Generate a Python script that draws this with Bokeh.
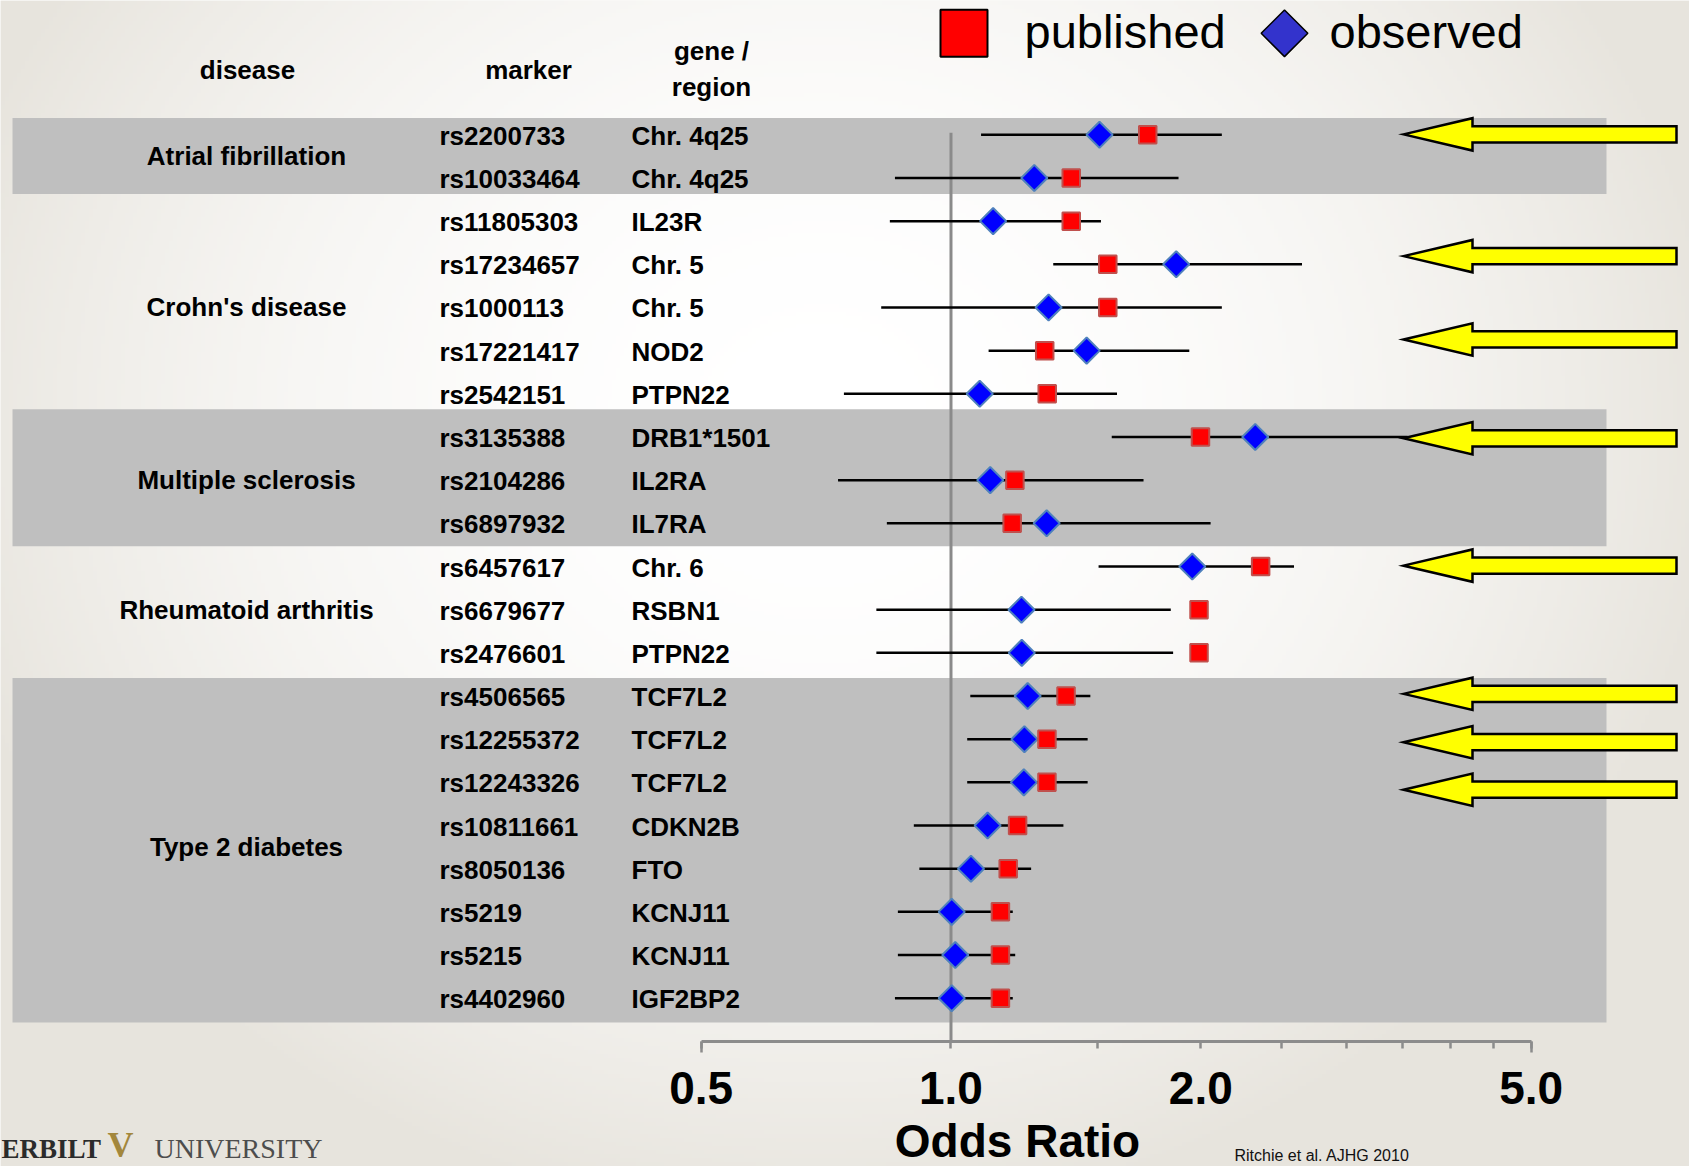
import numpy as np
from bokeh.plotting import figure
from bokeh.models import (Range1d, LinearScale, LogAxis, FixedTicker,
                          PrintfTickFormatter, CustomJSTickFormatter, ColumnDataSource)
from bokeh.core.properties import value
from bokeh.embed import file_html
from bokeh.resources import INLINE

# ---------------- data ----------------
diseases = ["Atrial fibrillation", "Crohn's disease", "Multiple sclerosis",
            "Rheumatoid arthritis", "Type 2 diabetes"]
disease_counts = [2, 5, 3, 3, 8]
markers = ["rs2200733", "rs10033464", "rs11805303", "rs17234657", "rs1000113",
           "rs17221417", "rs2542151", "rs3135388", "rs2104286", "rs6897932",
           "rs6457617", "rs6679677", "rs2476601", "rs4506565", "rs12255372",
           "rs12243326", "rs10811661", "rs8050136", "rs5219", "rs5215", "rs4402960"]
genes = ["Chr. 4q25", "Chr. 4q25", "IL23R", "Chr. 5", "Chr. 5", "NOD2", "PTPN22",
         "DRB1*1501", "IL2RA", "IL7RA", "Chr. 6", "RSBN1", "PTPN22", "TCF7L2",
         "TCF7L2", "TCF7L2", "CDKN2B", "FTO", "KCNJ11", "KCNJ11", "IGF2BP2"]
ci_low = [1.087, 0.856, 0.844, 1.328, 0.824, 1.110, 0.743, 1.562, 0.731, 0.837,
          1.506, 0.813, 0.813, 1.055, 1.046, 1.046, 0.902, 0.916, 0.863, 0.863, 0.856]
ci_high = [2.12, 1.88, 1.516, 2.648, 2.12, 1.937, 1.585, 3.55, 1.706, 2.055,
           2.59, 1.84, 1.852, 1.472, 1.461, 1.461, 1.366, 1.249, 1.187, 1.195, 1.187]
observed = [1.51, 1.26, 1.124, 1.868, 1.311, 1.457, 1.083, 2.326, 1.115, 1.304,
            1.953, 1.216, 1.217, 1.237, 1.226, 1.224, 1.107, 1.057, 1.002, 1.012, 1.002]
published = [1.726, 1.396, 1.396, 1.545, 1.545, 1.297, 1.306, 1.998, 1.194, 1.185,
             2.361, 1.99, 1.99, 1.376, 1.305, 1.305, 1.203, 1.172, 1.147, 1.147, 1.147]
arrow_markers = ["rs2200733", "rs17234657", "rs17221417", "rs3135388",
                 "rs6457617", "rs4506565", "rs12255372", "rs12243326"]
tick_values = [0.5, 1.0, 2.0, 5.0]
end_tick_values = [0.5, 5.0]
minor_tick_values = [1.5, 2.5, 3.0, 3.5, 4.0, 4.5]

FONT = value("Liberation Sans")
SERIF = value("Liberation Serif")

rows = list(range(len(markers)))
src = ColumnDataSource(dict(row=rows, marker=markers, gene=genes, lo=ci_low,
                            hi=ci_high, obs=observed, pub=published))

# ---------------- figure ----------------
W, H = 1689, 1166
p = figure(width=W, height=H, x_axis_type="log",
           x_range=Range1d(0.07158, 7.759), y_range=Range1d(23.8985, -3.111),
           x_axis_location=None, y_axis_location=None,
           toolbar_location=None, output_backend="svg", min_border=0)
p.grid.visible = False
p.outline_line_color = None
p.background_fill_color = "#f6f5f2"
p.border_fill_color = "#f6f5f2"

p.extra_x_ranges = {"px": Range1d(0, W)}
p.extra_x_scales = {"px": LinearScale()}
p.extra_y_ranges = {"px": Range1d(H, 0), "bg": Range1d(0, H)}
p.extra_y_scales = {"px": LinearScale(), "bg": LinearScale()}

# slide background (soft radial gradient)
GH, GW = 292, 423
gy = H - (np.arange(GH) + 0.5) * (H / GH)
gx = (np.arange(GW) + 0.5) * (W / GW)
GX, GY = np.meshgrid(gx, gy)
t = np.sqrt(((GX - 820) / 900) ** 2 + ((GY - 420) / 800) ** 2)
s = np.clip(t, 0, 1) ** 2
edge = np.array([231, 228, 221], dtype=float)
img = np.empty((GH, GW), dtype=np.uint32)
view = img.view(dtype=np.uint8).reshape((GH, GW, 4))
for k in range(3):
    view[:, :, k] = np.round(255 - s * (255 - edge[k])).astype(np.uint8)
view[:, :, 3] = 255
p.image_rgba(image=[img], x=0, y=0, dw=W, dh=H, x_range_name="px", y_range_name="bg")

# grey bands for alternating diseases
band_top = [-0.39, 6.36, 12.58]
band_bottom = [1.37, 9.53, 20.56]
p.quad(left=12, right=1606, top=band_top, bottom=band_bottom, x_range_name="px",
       fill_color="#bfbfbf", line_color=None)

# reference line at OR = 1
p.segment(x0=[1.0], x1=[1.0], y0=[-0.05], y1=[21.0], line_color="#8a8a8a", line_width=3)

# confidence intervals and points
p.segment(x0="lo", x1="hi", y0="row", y1="row", source=src,
          line_color="black", line_width=2.5)
p.scatter(x="obs", y="row", source=src, marker="square", angle=np.pi / 4, size=18.5,
          fill_color="#0000ff", line_color="#4f81bd", line_width=2)
p.scatter(x="pub", y="row", source=src, marker="square", size=17.5,
          fill_color="#ff0000", line_color="#c0504d", line_width=2)

# yellow arrows
arrow_nudge = [-0.01, -0.19, -0.26, 0.03, -0.02, -0.05, 0.07, 0.17]
axs, ays = [], []
for m, dn in zip(arrow_markers, arrow_nudge):
    yc = markers.index(m) + dn
    axs.append([1403, 1472, 1472, 1676, 1676, 1472, 1472])
    ays.append([yc, yc - 0.375, yc - 0.188, yc - 0.188, yc + 0.188, yc + 0.188, yc + 0.375])
p.patches(xs=axs, ys=ays, x_range_name="px", fill_color="#ffff00",
          line_color="black", line_width=2.5, line_join="miter")

# table text
tkw = dict(text_font=FONT, text_font_style="bold", text_font_size="26px",
           text_color="black", text_baseline="middle")
p.text(x=439, y="row", text="marker", source=src, x_range_name="px",
       text_align="left", y_offset=1, **tkw)
p.text(x=631, y="row", text="gene", source=src, x_range_name="px",
       text_align="left", y_offset=1, **tkw)
starts = np.cumsum([0] + disease_counts[:-1])
mids = [float(st + (c - 1) / 2) for st, c in zip(starts, disease_counts)]
p.text(x=246, y=mids, text=diseases, x_range_name="px",
       text_align="center", y_offset=0, **tkw)

# headers
p.text(x=[247, 528, 711, 711], y=[69, 69, 50, 86],
       text=["disease", "marker", "gene /", "region"],
       x_range_name="px", y_range_name="px", text_align="center", **tkw)

# legend
p.scatter(x=[963.5], y=[32.8], marker="square", size=47, fill_color="#ff0000",
          line_color="black", line_width=2, x_range_name="px", y_range_name="px")
p.scatter(x=[1284], y=[32.8], marker="square", angle=np.pi / 4, size=33,
          fill_color="#3333cc", line_color="black", line_width=1.5,
          x_range_name="px", y_range_name="px")
p.text(x=[1024, 1329], y=[31, 31], text=["published", "observed"],
       x_range_name="px", y_range_name="px", text_font=FONT,
       text_font_size="47px", text_color="black", text_align="left",
       text_baseline="middle")

# x axis (log)
axis_kw = dict(fixed_location=21.0, bounds=(0.5, 5.0),
               major_tick_in=0, minor_tick_in=0)
ax = LogAxis(ticker=FixedTicker(ticks=tick_values, minor_ticks=minor_tick_values),
             formatter=PrintfTickFormatter(format="%.1f"),
             axis_line_color="#8c8c8c", axis_line_width=3,
             major_tick_line_color="#8c8c8c", major_tick_line_width=2.5, major_tick_out=7,
             minor_tick_line_color="#8c8c8c", minor_tick_line_width=2.5, minor_tick_out=7,
             major_label_text_font="Liberation Sans", major_label_text_font_style="bold",
             major_label_text_font_size="46px", major_label_text_color="black",
             major_label_standoff=24, **axis_kw)
p.add_layout(ax, "below")
ax2 = LogAxis(ticker=FixedTicker(ticks=end_tick_values, minor_ticks=[]),
              formatter=CustomJSTickFormatter(code="return ''"),
              axis_line_color=None, major_tick_line_color="#8c8c8c",
              major_tick_line_width=2.5, major_tick_out=11, **axis_kw)
p.add_layout(ax2, "below")

p.text(x=[1017], y=[1140], text=["Odds Ratio"], x_range_name="px", y_range_name="px",
       text_font=FONT, text_font_style="bold", text_font_size="46px",
       text_color="black", text_align="center", text_baseline="middle")

# slide footer
p.text(x=[1], y=[1148], text=["ERBILT"], x_range_name="px", y_range_name="px",
       text_font=SERIF, text_font_style="bold", text_font_size="27px",
       text_color="#2b2b2b", text_align="left", text_baseline="middle")
p.text(x=[120], y=[1144], text=["V"], x_range_name="px", y_range_name="px",
       text_font=SERIF, text_font_style="bold", text_font_size="36px",
       text_color="#a3873c", text_align="center", text_baseline="middle")
p.text(x=[154], y=[1148], text=["UNIVERSITY"], x_range_name="px", y_range_name="px",
       text_font=SERIF, text_font_size="28px",
       text_color="#4d4d4d", text_align="left", text_baseline="middle")
p.text(x=[1234], y=[1155], text=["Ritchie et al. AJHG 2010"], x_range_name="px",
       y_range_name="px", text_font=FONT, text_font_size="16px",
       text_color="#111111", text_align="left", text_baseline="middle")

open("out.html", "w").write(file_html(p, INLINE))
